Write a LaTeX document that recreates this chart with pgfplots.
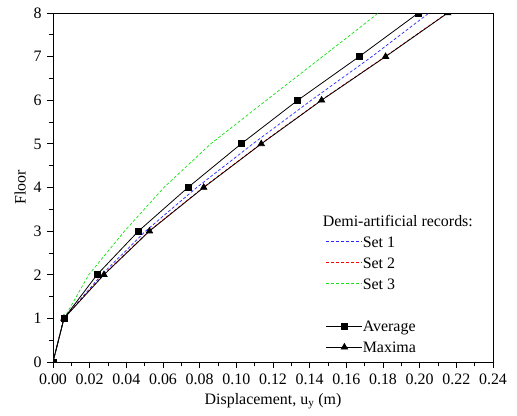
\documentclass[border=0pt]{standalone}
\usepackage{fontspec}
\setmainfont{Liberation Serif}
\usepackage{pgfplots}
\pgfplotsset{compat=1.18}
\usetikzlibrary{calc}
\definecolor{setgreen}{RGB}{20,225,20}
\definecolor{setblue}{RGB}{40,40,255}
\begin{document}
\fontsize{16}{19}\selectfont
\begin{tikzpicture}
\begin{axis}[
  scale only axis,
  width=440bp, height=349bp,
  xmin=0, xmax=0.24, ymin=0, ymax=8,
  xtick={0,0.02,...,0.241},
  ytick={0,1,...,8},
  minor x tick num=1, minor y tick num=1,
  xtick pos=left, ytick pos=left,
  tick align=outside,
  major tick length=6bp, minor tick length=3.5bp,
  every tick/.style={black, line width=0.8pt},
  axis line style={line width=0.9pt},
  /pgf/number format/assume math mode=true,
  x tick label style={/pgf/number format/.cd, fixed, fixed zerofill, precision=2},
  ticklabel style={font=\fontsize{16}{19}\selectfont},
  label style={font=\fontsize{16}{19}\selectfont},
  xlabel={Displacement, u\textsubscript{y} (m)},
  ylabel={Floor},
  xlabel style={yshift=2bp},
  ylabel style={yshift=-3bp},
  clip marker paths=true,
  legend cell align=left,
  legend style={draw=none, fill=none, at={(0.62,0.428)}, anchor=north west,
    font=\fontsize{16}{19}\selectfont, row sep=5.5bp, inner sep=0pt,
    nodes={inner sep=0pt}},
  legend image code/.code={\draw[mark repeat=2,mark phase=2,#1] plot coordinates {(0bp,0.3bp) (18bp,0.3bp) (36bp,0.3bp)};},
]
\addlegendimage{empty legend}
\addlegendentry{\strut\hspace{-40bp}Demi-artificial records:}
\addplot[setblue, densely dashed, line width=0.7pt] coordinates {
(0,0) (0.006,1) (0.0265,2) (0.0505,3) (0.0784,4) (0.109,5) (0.1409,6) (0.1739,7) (0.2051,8)};
\addlegendentry{\strut Set 1}
\addplot[red, densely dashed, line width=0.7pt] coordinates {
(0,0) (0.0058,1) (0.0275,2) (0.0523,3) (0.0819,4) (0.1133,5) (0.1462,6) (0.1811,7) (0.2150,8)};
\addlegendentry{\strut Set 2}
\addplot[setgreen, densely dashed, line width=0.7pt] coordinates {
(0,0) (0.006,1) (0.0195,2) (0.039,3) (0.0605,4) (0.086,5) (0.1164,6) (0.147,7) (0.1775,8)};
\addlegendentry{\strut Set 3}
\addlegendimage{empty legend}
\addlegendentry{\strut}
\addplot[black, line width=0.8pt, mark=square*, mark size=3bp, mark options={solid}] coordinates {
(0,0) (0.006,1) (0.024,2) (0.0466,3) (0.0736,4) (0.1026,5) (0.1335,6) (0.167,7) (0.1993,8)};
\addlegendentry{\strut Average}
\addplot[black, line width=0.8pt, mark=triangle*, mark size=3.6bp, mark options={solid}] coordinates {
(0,0) (0.006,1) (0.0278,2) (0.0526,3) (0.0822,4) (0.1136,5) (0.1465,6) (0.1814,7) (0.2153,8)};
\addlegendentry{\strut Maxima}
\end{axis}
\pgfresetboundingbox
\useasboundingbox ($(current axis.south west)+(-53bp,-54bp)$) rectangle ($(current axis.north east)+(24bp,13bp)$);
\end{tikzpicture}
\end{document}
